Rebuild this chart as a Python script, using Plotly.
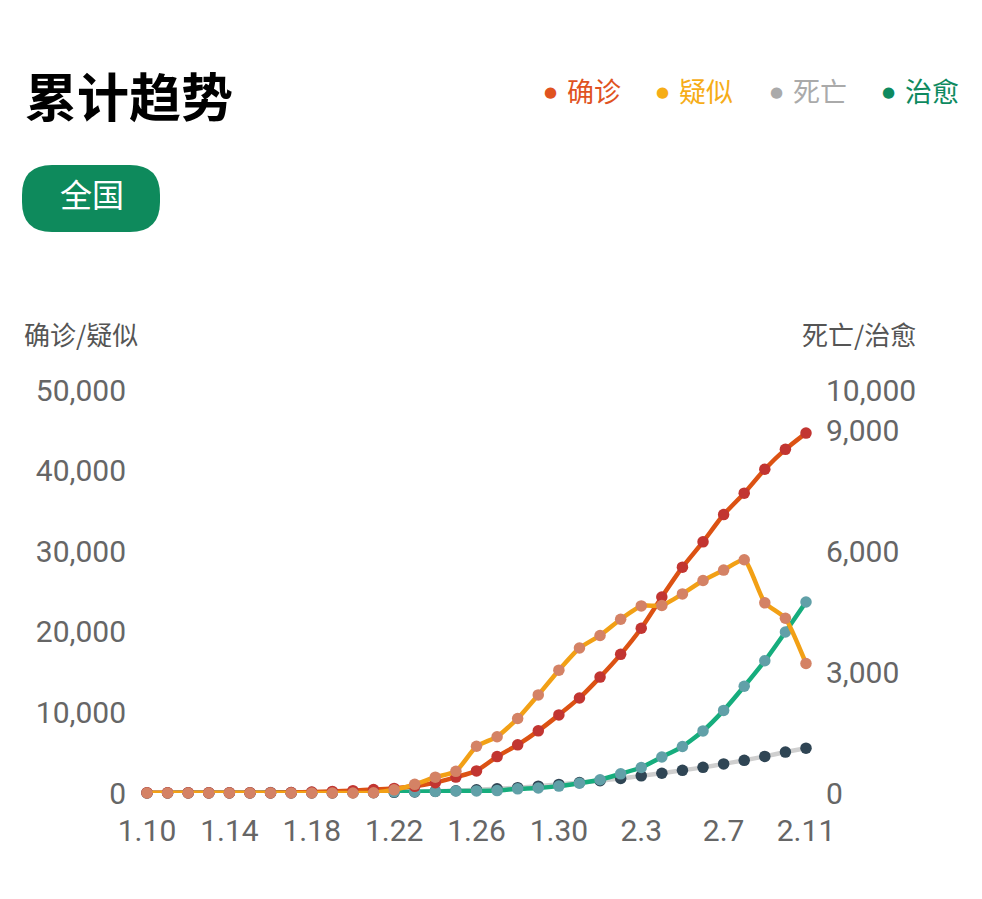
import plotly.graph_objects as go

dates = ["1.10","1.11","1.12","1.13","1.14","1.15","1.16","1.17","1.18","1.19","1.20",
         "1.21","1.22","1.23","1.24","1.25","1.26","1.27","1.28","1.29","1.30","1.31",
         "2.1","2.2","2.3","2.4","2.5","2.6","2.7","2.8","2.9","2.10","2.11"]
confirmed = [41,41,41,41,41,41,45,62,121,198,291,440,571,830,1287,1975,2744,4515,5974,7711,
             9692,11791,14380,17205,20438,24324,28018,31161,34546,37198,40171,42638,44653]
suspected = [0,0,0,0,0,0,0,0,0,0,0,37,393,1072,1965,2684,5794,6973,9239,12167,15238,17988,
             19544,21558,23214,23260,24702,26359,27657,28942,23589,21675,16067]
deaths = [1,1,1,1,1,1,2,2,2,3,6,9,17,25,41,56,80,106,132,170,213,259,304,361,425,490,563,
          636,722,811,908,1016,1113]
cured = [2,2,5,6,7,7,10,12,17,25,25,25,28,34,38,49,51,60,103,124,171,243,328,475,632,892,
         1153,1540,2050,2649,3281,3996,4740]
x_ticks = ["1.10","1.14","1.18","1.22","1.26","1.30","2.3","2.7","2.11"]
left_ticks = [0,10000,20000,30000,40000,50000]
right_ticks = [0,3000,6000,9000,10000]
legend_names = ["确诊","疑似","死亡","治愈"]

W, H = 982, 899
L, R, T, B = 147, 806, 390, 793
xi = list(range(len(dates)))

def px(x):
    return (x - L) / (R - L)

def py(y):
    return (B - y) / (B - T)

NUM = "Roboto, 'Noto Sans CJK SC', sans-serif"
CJK = "'Noto Sans CJK SC', sans-serif"
TICKC = "#666666"

fig = go.Figure()

def add(y, name, lc, mc, axis):
    fig.add_trace(go.Scatter(
        x=xi, y=y, name=name, mode="lines+markers", yaxis=axis,
        line=dict(color=lc, width=4.5, shape="spline", smoothing=0.5),
        marker=dict(color=mc, size=11.5), cliponaxis=False, showlegend=False))

# death / cured on base axis (right side), confirmed / suspected on overlay (left side, drawn on top)
add(deaths, "死亡", "#cfcfcf", "#2f4554", "y")
add(cured, "治愈", "#16ad7d", "#61a0a8", "y")
add(confirmed, "确诊", "#dc5213", "#c23531", "y2")
add(suspected, "疑似", "#f2a015", "#d48265", "y2")

tickidx = [dates.index(t) for t in x_ticks]

fig.update_layout(
    width=W, height=H,
    margin=dict(l=L, r=W - R, t=T, b=H - B, pad=0),
    paper_bgcolor="white", plot_bgcolor="white",
    xaxis=dict(range=[0, len(dates) - 1], tickvals=tickidx, ticktext=x_ticks,
               showgrid=False, zeroline=False, showline=False,
               ticks="outside", ticklen=11, tickcolor="rgba(0,0,0,0)",
               tickfont=dict(family=NUM, size=30, color=TICKC)),
    yaxis=dict(range=[0, 10000], tickvals=right_ticks, tickformat=",", side="right",
               showgrid=False, zeroline=False, showline=False,
               ticks="outside", ticklen=13, tickcolor="rgba(0,0,0,0)",
               tickfont=dict(family=NUM, size=30, color=TICKC)),
    yaxis2=dict(range=[0, 50000], tickvals=left_ticks, tickformat=",",
                overlaying="y", side="left",
                showgrid=False, zeroline=False, showline=False,
                ticks="outside", ticklen=14, tickcolor="rgba(0,0,0,0)",
                tickfont=dict(family=NUM, size=30, color=TICKC)),
)

ann = []
# title
ann.append(dict(x=px(23), y=py(94), xref="paper", yref="paper", xanchor="left", yanchor="middle",
                text="<b>累计趋势</b>", showarrow=False,
                font=dict(family=CJK, size=52, color="#000000")))
# legend
leg_cols = ["#e0531f", "#f6ad17", "#aaaaaa", "#0e8a5f"]
dot_x = [550, 662, 776, 888]
for name, c, dx in zip(legend_names, leg_cols, dot_x):
    ann.append(dict(x=px(dx), y=py(92), xref="paper", yref="paper", xanchor="center",
                    yanchor="middle", text="●", showarrow=False,
                    font=dict(family="DejaVu Sans", size=15, color=c)))
    ann.append(dict(x=px(dx + 15), y=py(90), xref="paper", yref="paper", xanchor="left",
                    yanchor="middle", text=name, showarrow=False,
                    font=dict(family=CJK, size=27, color=c)))
# button text
ann.append(dict(x=px(92), y=py(193), xref="paper", yref="paper", xanchor="center",
                yanchor="middle", text="全国", showarrow=False,
                font=dict(family=CJK, size=32, color="#ffffff")))
# axis titles
ann.append(dict(x=px(22), y=py(333), xref="paper", yref="paper", xanchor="left",
                yanchor="middle", text="确诊/疑似", showarrow=False,
                font=dict(family=CJK, size=26, color="#555555")))
ann.append(dict(x=px(918), y=py(333), xref="paper", yref="paper", xanchor="right",
                yanchor="middle", text="死亡/治愈", showarrow=False,
                font=dict(family=CJK, size=26, color="#555555")))
fig.update_layout(annotations=ann)

# rounded pill button
x0, x1, y0, y1, r = 22, 160, 165, 232, 30
def P(x, y):
    return f"{px(x):.5f},{py(y):.5f}"
path = (f"M {P(x0 + r, y0)} L {P(x1 - r, y0)} "
        f"Q {P(x1, y0)} {P(x1, y0 + r)} L {P(x1, y1 - r)} "
        f"Q {P(x1, y1)} {P(x1 - r, y1)} L {P(x0 + r, y1)} "
        f"Q {P(x0, y1)} {P(x0, y1 - r)} L {P(x0, y0 + r)} "
        f"Q {P(x0, y0)} {P(x0 + r, y0)} Z")
fig.add_shape(type="path", xref="paper", yref="paper", path=path,
              fillcolor="#0e8a5c", line=dict(width=0))

fig.write_html("out.html")
